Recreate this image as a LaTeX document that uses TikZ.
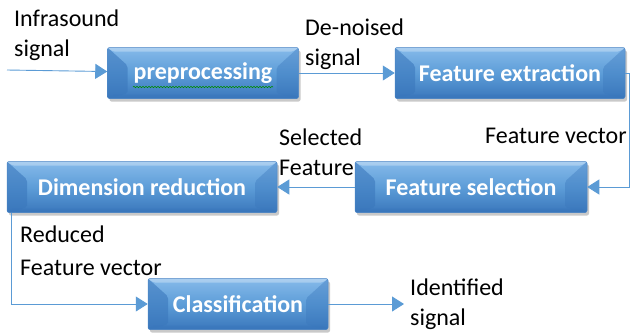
\documentclass[tikz,border=0pt]{standalone}
\usepackage{fontspec}
\setmainfont{Carlito}
\usetikzlibrary{arrows.meta,shadows,decorations.pathmorphing}
\definecolor{boxtop}{HTML}{86BAEA}
\definecolor{boxmid}{HTML}{5D9DD8}
\definecolor{boxbot}{HTML}{3A77BC}
\definecolor{boxedge}{HTML}{4A84C4}
\definecolor{flowline}{HTML}{5B9BD5}
\begin{document}
\begin{tikzpicture}[x=1pt,y=-1pt,
  stage/.style={rectangle, draw=boxedge, line width=.5pt, rounded corners=2pt,
    top color=boxtop, bottom color=boxbot, middle color=boxmid,
    minimum height=51pt, inner sep=0pt, text=white,
    font=\bfseries\fontsize{24}{28}\selectfont,
    drop shadow={shadow xshift=2pt, shadow yshift=-3pt, opacity=.3, fill=black!70},
    path picture={
      \fill[boxbot, opacity=.6] (path picture bounding box.north west) -- ++(20pt,-18pt)
        -- ([shift={(20pt,5pt)}]path picture bounding box.south west)
        -- (path picture bounding box.south west) -- cycle;
      \fill[boxbot, opacity=.4] (path picture bounding box.north east) -- ++(-22pt,-20pt)
        -- ([shift={(-22pt,5pt)}]path picture bounding box.south east)
        -- (path picture bounding box.south east) -- cycle;
      \fill[white, opacity=.3] (path picture bounding box.north west)
        -- (path picture bounding box.north east) -- ++(-5pt,-4pt)
        -- ([shift={(5pt,-4pt)}]path picture bounding box.north west) -- cycle;
      \fill[boxbot, opacity=.5] (path picture bounding box.south west)
        -- (path picture bounding box.south east) -- ++(-5pt,4pt)
        -- ([shift={(5pt,4pt)}]path picture bounding box.south west) -- cycle;
    }},
  flow/.style={draw=flowline, line width=.9pt,
    -{Triangle[length=12pt,width=15pt,fill=flowline]}},
  lbl/.style={anchor=base west, align=left, inner sep=0pt,
    font=\fontsize{24}{30}\selectfont},
  spellmark/.style={draw=green!55!black, line width=.6pt, decorate,
    decoration={snake, segment length=3pt, amplitude=.7pt}}]
\useasboundingbox (0,0) rectangle (631,333);
\node[stage, minimum width=191pt] (pre) at (203,73){preprocessing};
\node[stage, minimum width=230pt] (fex) at (510,73){Feature extraction};
\node[stage, minimum width=270pt] (dim) at (142,187){Dimension reduction};
\node[stage, minimum width=232pt] (fss) at (471,187){Feature selection};
\node[stage, minimum width=180pt] (cls) at (238,304){Classification};
\draw[spellmark] ([shift={(-70pt,-14pt)}]pre.center) -- ([shift={(70pt,-14pt)}]pre.center);
\coordinate (src) at (7,70);
\coordinate (rturn) at (629,187);
\coordinate (idout) at (404,304);
\draw[flow](src) -- (pre);
\draw[flow](pre) -- (fex);
\draw[flow](fex.east) -| (rturn) -- (fss.east);
\draw[flow](fss) -- (dim);
\draw[flow]([xshift=5pt]dim.south west) |- (cls);
\draw[flow](cls) -- (idout);
\node[lbl] (insig) at (14,56){Infrasound\\signal};
\node[lbl] (dnsig) at (305,65){De-noised\\signal};
\node[lbl] (selft) at (279,175){Selected\\Feature};
\node[lbl] (ftvec) at (485,143){Feature vector};
\node[lbl] (rdvec) at (20,275){Reduced\\[3pt]Feature vector};
\node[lbl] (idsig) at (410,325){Identified\\signal};
\end{tikzpicture}
\end{document}
